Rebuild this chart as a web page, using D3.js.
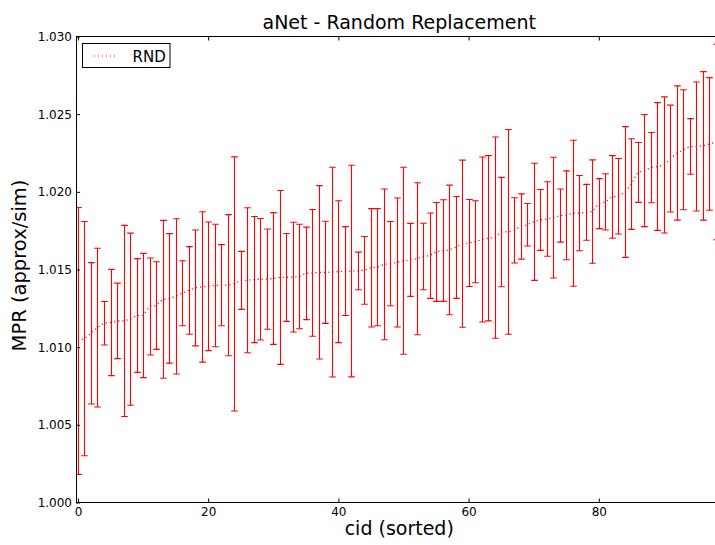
<!DOCTYPE html>
<html><head><meta charset="utf-8">
<script src="https://cdn.jsdelivr.net/npm/d3@7/dist/d3.min.js"></script>
<style>
body{margin:0;background:#fff}
svg{display:block}
text{font-family:"DejaVu Sans",sans-serif;fill:#000}
</style>
</head><body>
<svg id="chart" width="715" height="545"></svg>
<script>
// ---- data ----
const titleText = "aNet - Random Replacement";
const xLabel = "cid (sorted)";
const yLabel = "MPR (approx/sim)";
const seriesName = "RND";

// mean MPR per cid (sorted)
const meanMPR = [
 1.01040,1.01055,1.01089,1.01126,1.01154,1.01159,1.01169,1.01169,1.01180,1.01204,
 1.01204,1.01262,1.01268,1.01308,1.01314,1.01327,1.01347,1.01365,1.01381,1.01388,
 1.01392,1.01397,1.01399,1.01399,1.01407,1.01430,1.01431,1.01435,1.01437,1.01438,
 1.01442,1.01449,1.01449,1.01451,1.01455,1.01475,1.01478,1.01482,1.01482,1.01483,
 1.01486,1.01490,1.01490,1.01491,1.01494,1.01511,1.01515,1.01533,1.01538,1.01545,
 1.01556,1.01562,1.01569,1.01584,1.01589,1.01613,1.01622,1.01626,1.01642,1.01666,
 1.01671,1.01679,1.01693,1.01701,1.01705,1.01741,1.01742,1.01752,1.01777,1.01788,
 1.01807,1.01819,1.01825,1.01834,1.01847,1.01849,1.01862,1.01863,1.01868,1.01873,
 1.01924,1.01935,1.01967,1.01972,1.01999,1.02050,1.02125,1.02137,1.02156,1.02163,
 1.02173,1.02214,1.02250,1.02271,1.02292,1.02292,1.02296,1.02308,1.02321
];
// error (half-height of each error bar)
const errMPR = [
 0.00859,0.00754,0.00455,0.00511,0.00140,0.00342,0.00243,0.00615,0.00554,0.00366,
 0.00400,0.00312,0.00282,0.00508,0.00417,0.00500,0.00209,0.00282,0.00373,0.00484,
 0.00414,0.00394,0.00261,0.00454,0.00818,0.00187,0.00467,0.00406,0.00391,0.00323,
 0.00424,0.00560,0.00283,0.00353,0.00336,0.00298,0.00408,0.00558,0.00329,0.00675,
 0.00457,0.00286,0.00681,0.00121,0.00218,0.00381,0.00377,0.00485,0.00271,0.00415,
 0.00602,0.00235,0.00489,0.00214,0.00275,0.00318,0.00327,0.00417,0.00328,0.00538,
 0.00280,0.00264,0.00531,0.00532,0.00648,0.00352,0.00659,0.00210,0.00210,0.00137,
 0.00377,0.00196,0.00240,0.00389,0.00171,0.00286,0.00470,0.00242,0.00180,0.00333,
 0.00161,0.00181,0.00266,0.00243,0.00421,0.00292,0.00193,0.00361,0.00226,0.00411,
 0.00438,0.00344,0.00432,0.00386,0.00179,0.00415,0.00478,0.00427,0.00629
];
const xTicks = [0, 20, 40, 60, 80];
const yTicks = [1.000, 1.005, 1.010, 1.015, 1.020, 1.025, 1.030];
const xDomain = [-0.3, 99];
const yDomain = [1.000, 1.030];

// ---- layout ----
const L = 76, R = 722.5, T = 36.5, B = 502.5;
const color = "#ff0000";
const svg = d3.select("#chart");
const x = d3.scaleLinear().domain(xDomain).range([L, R]);
const y = d3.scaleLinear().domain(yDomain).range([B, T]);

const data = meanMPR.map((m, i) => ({cid: i, mean: m, err: errMPR[i]}));

svg.append("defs").append("clipPath").attr("id","clip")
  .append("rect").attr("x", L).attr("y", T).attr("width", R - L).attr("height", B - T);

const plot = svg.append("g").attr("clip-path","url(#clip)");

// dotted mean line
plot.append("path")
  .datum(data)
  .attr("fill","none")
  .attr("stroke", color)
  .attr("stroke-width", 1.2)
  .attr("stroke-dasharray","1.2,3")
  .attr("d", d3.line().x(d => x(d.cid)).y(d => y(d.mean)));

// error bars
const eb = plot.append("g").attr("stroke", color).attr("stroke-width", 1.1).attr("fill","none");
const cap = 3.3;
data.forEach(d => {
  const cx = Math.round(x(d.cid)) + 0.5;
  const y1 = y(d.mean + d.err), y0 = y(d.mean - d.err);
  eb.append("line").attr("x1",cx).attr("x2",cx).attr("y1",y1).attr("y2",y0);
  eb.append("line").attr("x1",cx-cap).attr("x2",cx+cap).attr("y1",y1).attr("y2",y1);
  eb.append("line").attr("x1",cx-cap).attr("x2",cx+cap).attr("y1",y0).attr("y2",y0);
});

// axes (ticks inside)
const fmt = d3.format(".3f");
const gx = svg.append("g").attr("transform",`translate(0,${B})`)
  .call(d3.axisBottom(x).tickValues(xTicks).tickSizeInner(-4).tickSizeOuter(0).tickPadding(5).tickFormat(d3.format("d")));
const gxt = svg.append("g").attr("transform",`translate(0,${T})`)
  .call(d3.axisTop(x).tickValues(xTicks).tickSizeInner(-4).tickSizeOuter(0).tickFormat(""));
const gy = svg.append("g").attr("transform",`translate(${L},0)`)
  .call(d3.axisLeft(y).tickValues(yTicks).tickSizeInner(-4).tickSizeOuter(0).tickPadding(4).tickFormat(fmt));
[gx, gxt, gy].forEach(g => {
  g.select(".domain").remove();
  g.selectAll(".tick line").attr("stroke","#000");
  g.selectAll("text").style("font-family","DejaVu Sans").style("font-size","12px").attr("fill","#000");
});

// frame
svg.append("rect").attr("x",L).attr("y",T).attr("width",R-L).attr("height",B-T)
  .attr("fill","none").attr("stroke","#000").attr("stroke-width",1).attr("shape-rendering","crispEdges");

// title & labels
const cxm = (L + R) / 2;
svg.append("text").attr("x", cxm).attr("y", 29).attr("text-anchor","middle")
  .style("font-size","19px").text(titleText);
svg.append("text").attr("x", cxm).attr("y", 535).attr("text-anchor","middle")
  .style("font-size","19px").text(xLabel);
svg.append("text").attr("transform",`translate(26,${(T+B)/2 - 4}) rotate(-90)`).attr("text-anchor","middle")
  .style("font-size","19.5px").text(yLabel);

// legend
const lg = svg.append("g");
lg.append("rect").attr("x",82.5).attr("y",43.5).attr("width",87.5).attr("height",24)
  .attr("fill","#fff").attr("stroke","#000").attr("stroke-width",1);
lg.append("line").attr("x1",94).attr("x2",116).attr("y1",56).attr("y2",56)
  .attr("stroke",color).attr("stroke-width",1).attr("stroke-dasharray","1,3");
lg.append("text").attr("x",132.5).attr("y",61.5).style("font-size","15px").text(seriesName);
</script>
</body></html>
